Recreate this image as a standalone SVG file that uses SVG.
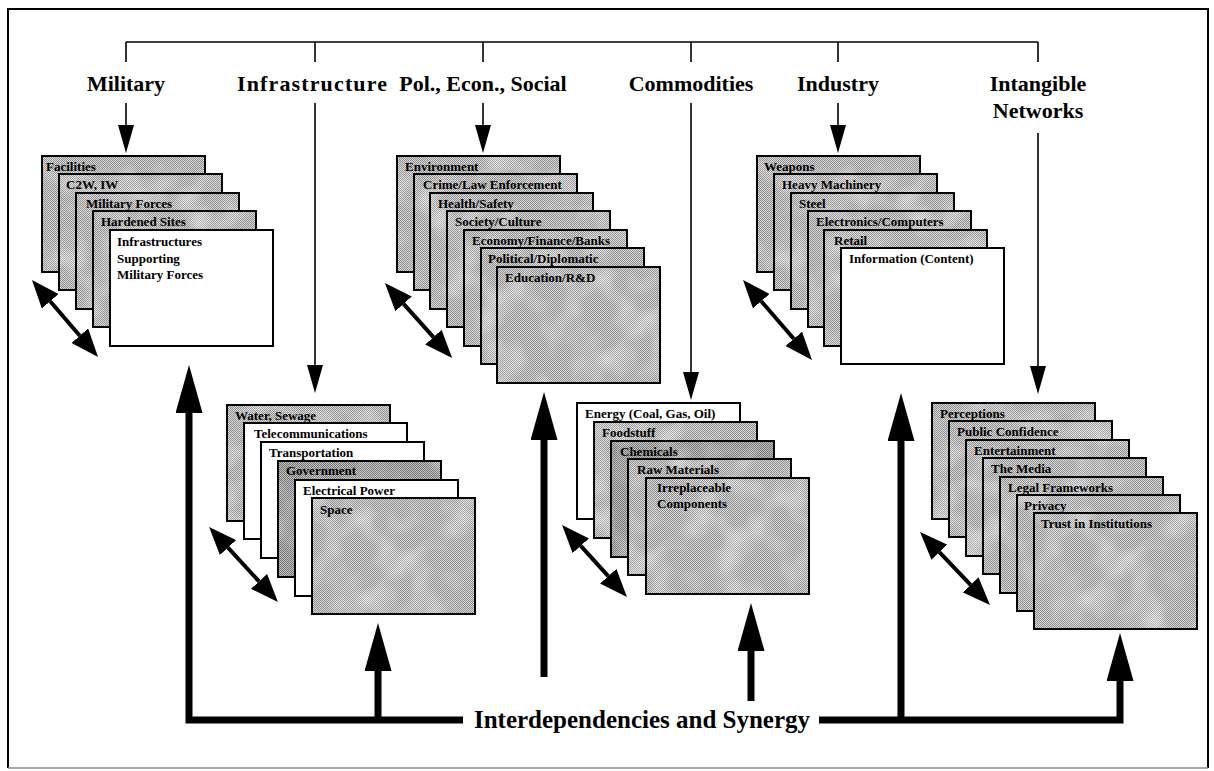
<svg xmlns="http://www.w3.org/2000/svg" width="1214" height="771" viewBox="0 0 1214 771">
  <style>
    .hdr { font-family: "Liberation Serif", "Times New Roman", serif; font-weight: bold; font-size: 22px; fill: #000; text-anchor: middle; }
    .lbl { font-family: "Liberation Serif", "Times New Roman", serif; font-weight: bold; font-size: 13px; fill: #000; }
    .big { font-family: "Liberation Serif", "Times New Roman", serif; font-weight: bold; font-size: 25px; fill: #000; text-anchor: middle; }
    .card { stroke: #000; stroke-width: 2; }
    .gray { fill: url(#cloud); }
    .dark { fill: url(#cloudDark); }
    .white { fill: #fff; }
    .thin { fill: none; stroke: #000; stroke-width: 1.6; }
    .thick { fill: none; stroke: #000; stroke-width: 7; stroke-linejoin: miter; }
    .diag { fill: none; stroke: #000; stroke-width: 4; }
  </style>
  <defs>
    <!-- halftone-like gray fills -->
    <pattern id="dither" width="2" height="2" patternUnits="userSpaceOnUse">
      <rect width="2" height="2" fill="#d8d8d8"/>
      <rect width="1" height="1" fill="#8e8e8e"/>
      <rect x="1" y="1" width="1" height="1" fill="#8e8e8e"/>
    </pattern>
    <pattern id="ditherDark" width="2" height="2" patternUnits="userSpaceOnUse">
      <rect width="2" height="2" fill="#c0c0c0"/>
      <rect width="1" height="1" fill="#767676"/>
      <rect x="1" y="1" width="1" height="1" fill="#767676"/>
    </pattern>
    <!-- soft light blotches over the halftone -->
    <filter id="mottle" x="0" y="0" width="100%" height="100%" color-interpolation-filters="sRGB">
      <feTurbulence type="fractalNoise" baseFrequency="0.03" numOctaves="2" seed="7" stitchTiles="stitch"/>
      <feColorMatrix type="matrix" values="0 0 0 0 1  0 0 0 0 1  0 0 0 0 1  2.2 0 0 0 -1.0"/>
    </filter>
    <pattern id="cloud" width="240" height="240" patternUnits="userSpaceOnUse">
      <rect width="240" height="240" fill="url(#dither)"/>
      <rect width="240" height="240" fill="#fff" filter="url(#mottle)" opacity="0.55"/>
    </pattern>
    <pattern id="cloudDark" width="240" height="240" patternUnits="userSpaceOnUse">
      <rect width="240" height="240" fill="url(#ditherDark)"/>
      <rect width="240" height="240" fill="#fff" filter="url(#mottle)" opacity="0.4"/>
    </pattern>
    <!-- arrowheads: reference point at the base of the head -->
    <marker id="headThin" viewBox="0 0 28 16" refX="0" refY="8" markerWidth="28" markerHeight="16" markerUnits="userSpaceOnUse" orient="auto">
      <path d="M0,0 L28,8 L0,16 Z" fill="#000"/>
    </marker>
    <marker id="headThick" viewBox="0 0 48 27" refX="0" refY="13.5" markerWidth="48" markerHeight="27" markerUnits="userSpaceOnUse" orient="auto">
      <path d="M0,0 L48,13.5 L0,27 Z" fill="#000"/>
    </marker>
    <marker id="headDiag" viewBox="0 0 28 22" refX="0" refY="11" markerWidth="28" markerHeight="22" markerUnits="userSpaceOnUse" orient="auto-start-reverse">
      <path d="M0,0 L28,11 L0,22 Z" fill="#000"/>
    </marker>
  </defs>

  <rect width="1214" height="771" fill="#fff"/>

  <!-- frame -->
  <path d="M8,768 V9 H1208 V768" fill="none" stroke="#000" stroke-width="2"/>
  <path d="M8,768 H1208" fill="none" stroke="#8a8a8a" stroke-width="1.5"/>

  <!-- category headers -->
  <g id="headers">
    <text class="hdr" x="126" y="91">Military</text>
    <text class="hdr" x="312" y="91" textLength="150" lengthAdjust="spacing">Infrastructure</text>
    <text class="hdr" x="483" y="91">Pol., Econ., Social</text>
    <text class="hdr" x="691" y="91">Commodities</text>
    <text class="hdr" x="838" y="91">Industry</text>
    <text class="hdr" x="1038" y="91">Intangible</text>
    <text class="hdr" x="1038" y="118">Networks</text>
  </g>

  <!-- Military stack -->
  <g id="military">
    <rect class="card gray" x="42" y="156" width="163" height="116"/>
    <text class="lbl" x="46" y="171">Facilities</text>
    <rect class="card gray" x="59" y="174" width="163" height="116"/>
    <text class="lbl" x="66" y="189">C2W, IW</text>
    <rect class="card gray" x="76" y="193" width="163" height="116"/>
    <text class="lbl" x="86" y="208">Military Forces</text>
    <rect class="card gray" x="93" y="211" width="163" height="116"/>
    <text class="lbl" x="101" y="226">Hardened Sites</text>
    <rect class="card white" x="110" y="230" width="163" height="116"/>
    <text class="lbl" x="117" y="246">Infrastructures</text>
    <text class="lbl" x="117" y="263">Supporting</text>
    <text class="lbl" x="117" y="279">Military Forces</text>
  </g>

  <!-- Pol., Econ., Social stack -->
  <g id="pol-econ-social">
    <rect class="card gray" x="397" y="156" width="163" height="116"/>
    <text class="lbl" x="405" y="171">Environment</text>
    <rect class="card gray" x="414" y="174" width="163" height="116"/>
    <text class="lbl" x="423" y="189">Crime/Law Enforcement</text>
    <rect class="card gray" x="430" y="193" width="163" height="116"/>
    <text class="lbl" x="438" y="208">Health/Safety</text>
    <rect class="card gray" x="447" y="211" width="163" height="116"/>
    <text class="lbl" x="455" y="226">Society/Culture</text>
    <rect class="card gray" x="464" y="230" width="163" height="116"/>
    <text class="lbl" x="472" y="245">Economy/Finance/Banks</text>
    <rect class="card gray" x="481" y="248" width="163" height="116"/>
    <text class="lbl" x="488" y="263">Political/Diplomatic</text>
    <rect class="card gray" x="497" y="267" width="163" height="116"/>
    <text class="lbl" x="505" y="282">Education/R&amp;D</text>
  </g>

  <!-- Industry stack -->
  <g id="industry">
    <rect class="card gray" x="757" y="156" width="163" height="116"/>
    <text class="lbl" x="764" y="171">Weapons</text>
    <rect class="card gray" x="774" y="174" width="163" height="116"/>
    <text class="lbl" x="782" y="189">Heavy Machinery</text>
    <rect class="card gray" x="791" y="193" width="163" height="116"/>
    <text class="lbl" x="799" y="208">Steel</text>
    <rect class="card gray" x="808" y="211" width="163" height="116"/>
    <text class="lbl" x="816" y="226">Electronics/Computers</text>
    <rect class="card gray" x="824" y="230" width="163" height="116"/>
    <text class="lbl" x="834" y="245">Retail</text>
    <rect class="card white" x="841" y="248" width="163" height="116"/>
    <text class="lbl" x="849" y="263">Information (Content)</text>
  </g>

  <!-- Infrastructure stack -->
  <g id="infrastructure">
    <rect class="card gray" x="227" y="405" width="163" height="116"/>
    <text class="lbl" x="235" y="420">Water, Sewage</text>
    <rect class="card white" x="244" y="423" width="163" height="116"/>
    <text class="lbl" x="254" y="438">Telecommunications</text>
    <rect class="card white" x="261" y="442" width="163" height="116"/>
    <text class="lbl" x="269" y="457">Transportation</text>
    <rect class="card dark" x="278" y="461" width="163" height="116"/>
    <text class="lbl" x="286" y="475">Government</text>
    <rect class="card white" x="295" y="480" width="163" height="116"/>
    <text class="lbl" x="303" y="495">Electrical Power</text>
    <rect class="card gray" x="312" y="498" width="163" height="116"/>
    <text class="lbl" x="320" y="514">Space</text>
  </g>

  <!-- Commodities stack -->
  <g id="commodities">
    <rect class="card white" x="577" y="403" width="163" height="116"/>
    <text class="lbl" x="585" y="418">Energy (Coal, Gas, Oil)</text>
    <rect class="card gray" x="594" y="422" width="163" height="116"/>
    <text class="lbl" x="602" y="437">Foodstuff</text>
    <rect class="card dark" x="611" y="441" width="163" height="116"/>
    <text class="lbl" x="620" y="456">Chemicals</text>
    <rect class="card gray" x="628" y="459" width="163" height="116"/>
    <text class="lbl" x="637" y="474">Raw Materials</text>
    <rect class="card gray" x="646" y="478" width="163" height="116"/>
    <text class="lbl" x="657" y="492">Irreplaceable</text>
    <text class="lbl" x="657" y="508">Components</text>
  </g>

  <!-- Intangible Networks stack -->
  <g id="intangible-networks">
    <rect class="card gray" x="932" y="403" width="163" height="116"/>
    <text class="lbl" x="940" y="418">Perceptions</text>
    <rect class="card gray" x="949" y="421" width="163" height="116"/>
    <text class="lbl" x="957" y="436">Public Confidence</text>
    <rect class="card gray" x="966" y="440" width="163" height="116"/>
    <text class="lbl" x="974" y="455">Entertainment</text>
    <rect class="card gray" x="983" y="458" width="163" height="116"/>
    <text class="lbl" x="991" y="473">The Media</text>
    <rect class="card gray" x="1000" y="477" width="163" height="116"/>
    <text class="lbl" x="1008" y="492">Legal Frameworks</text>
    <rect class="card gray" x="1017" y="495" width="163" height="116"/>
    <text class="lbl" x="1024" y="510">Privacy</text>
    <rect class="card gray" x="1034" y="513" width="163" height="116"/>
    <text class="lbl" x="1041" y="528">Trust in Institutions</text>
  </g>

  <!-- connectors -->
  <g id="connectors">
    <!-- top distribution bar with stubs -->
    <path class="thin" d="M126,42 H1038 M126,42 V62 M315,42 V62 M483,42 V62 M691,42 V62 M838,42 V62 M1038,42 V62"/>
    <!-- feeds into each stack -->
    <path class="thin" d="M126,103 V125" marker-end="url(#headThin)"/>
    <path class="thin" d="M315,103 V365" marker-end="url(#headThin)"/>
    <path class="thin" d="M483,103 V125" marker-end="url(#headThin)"/>
    <path class="thin" d="M691,103 V372" marker-end="url(#headThin)"/>
    <path class="thin" d="M838,103 V125" marker-end="url(#headThin)"/>
    <path class="thin" d="M1038,133 V366" marker-end="url(#headThin)"/>

    <!-- interdependency return paths -->
    <path class="thick" d="M463,720 H189 V413" marker-end="url(#headThick)"/>
    <path class="thick" d="M378,720 V671" marker-end="url(#headThick)"/>
    <path class="thick" d="M544,677 V440" marker-end="url(#headThick)"/>
    <path class="thick" d="M751,701 V651" marker-end="url(#headThick)"/>
    <path class="thick" d="M819,720 H1120 V681" marker-end="url(#headThick)"/>
    <path class="thick" d="M901,720 V441" marker-end="url(#headThick)"/>

    <!-- depth arrows beside each stack -->
    <path class="diag" d="M50.2,301.3 L79.8,335.7" marker-start="url(#headDiag)" marker-end="url(#headDiag)"/>
    <path class="diag" d="M403.6,303.9 L433.4,337.1" marker-start="url(#headDiag)" marker-end="url(#headDiag)"/>
    <path class="diag" d="M761.3,301.2 L793.7,338.8" marker-start="url(#headDiag)" marker-end="url(#headDiag)"/>
    <path class="diag" d="M228,547.6 L259,581.4" marker-start="url(#headDiag)" marker-end="url(#headDiag)"/>
    <path class="diag" d="M580.8,545.8 L608.2,576.2" marker-start="url(#headDiag)" marker-end="url(#headDiag)"/>
    <path class="diag" d="M939.4,552.2 L970.6,584.8" marker-start="url(#headDiag)" marker-end="url(#headDiag)"/>
  </g>

  <text class="big" x="642" y="728">Interdependencies and Synergy</text>
</svg>
